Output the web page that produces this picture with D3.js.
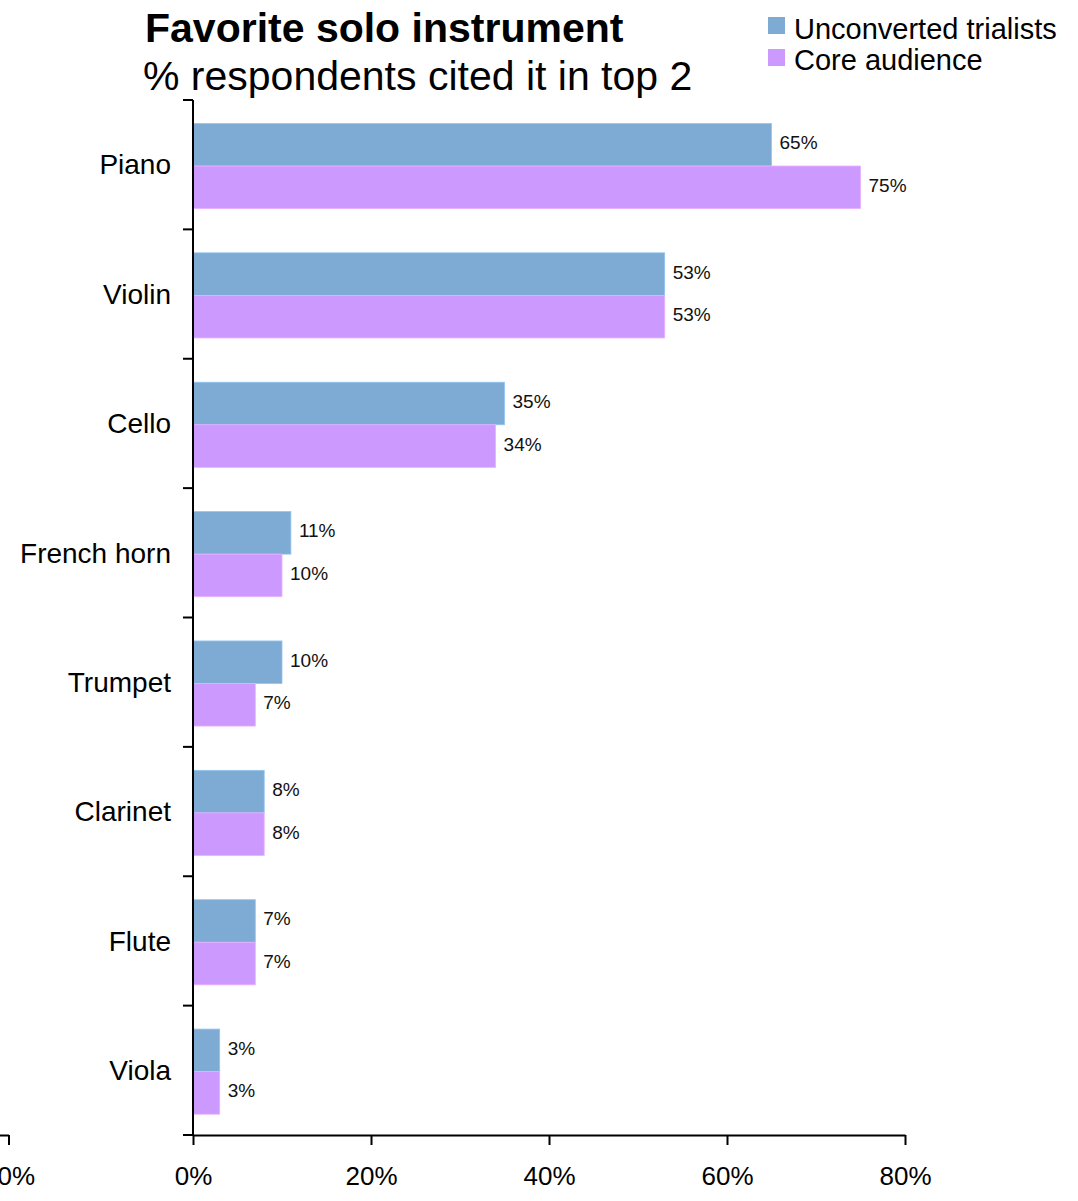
<!DOCTYPE html>
<html>
<head>
<meta charset="utf-8">
<script src="https://cdn.jsdelivr.net/npm/d3@7"></script>
<style>
  html, body { margin: 0; padding: 0; background: #fff; }
  svg { display: block; font-family: "Liberation Sans", Arial, Helvetica, sans-serif; }
</style>
</head>
<body>
<svg id="chart" width="1078" height="1201"></svg>
<script>
// Survey results: share of respondents naming each instrument in their top 2
const categories = ["Piano", "Violin", "Cello", "French horn", "Trumpet", "Clarinet", "Flute", "Viola"];
const seriesNames = ["Unconverted trialists", "Core audience"];
const unconverted = [0.65, 0.53, 0.35, 0.11, 0.10, 0.08, 0.07, 0.03];
const core = [0.75, 0.53, 0.34, 0.10, 0.07, 0.08, 0.07, 0.03];
const xTicks = [0, 0.2, 0.4, 0.6, 0.8];
const prevPanelTicks = [0.8];
const colors = ["#7eabd3", "#cc99ff"];

const seriesValues = [unconverted, core];
const svg = d3.select("#chart");

const plot = { left: 193, right: 905, top: 100, bottom: 1135 };

const x = d3.scaleLinear().domain([0, 0.8]).range([plot.left, plot.right]);
const y = d3.scaleBand().domain(categories).range([plot.top, plot.bottom]).padding(0);
const ySub = d3.scaleBand().domain(seriesNames).range([0, y.bandwidth()])
  .paddingInner(0).paddingOuter(0.52).align(0.53);

const pct = d3.format(".0%");

// Bars
const groups = svg.append("g").selectAll("g")
  .data(categories)
  .join("g")
  .attr("transform", c => `translate(0,${y(c)})`);

seriesNames.forEach((s, si) => {
  groups.append("rect")
    .attr("x", x(0))
    .attr("y", ySub(s))
    .attr("width", (c, i) => x(seriesValues[si][i]) - x(0))
    .attr("height", ySub.bandwidth())
    .attr("fill", colors[si])
    .attr("stroke", d3.color(colors[si]).brighter(0.4))
    .attr("stroke-width", 0.8);

  groups.append("text")
    .attr("x", (c, i) => x(seriesValues[si][i]) + 8)
    .attr("y", ySub(s) + ySub.bandwidth() / 2 - 2)
    .attr("dominant-baseline", "central")
    .attr("font-size", 19)
    .attr("fill", "#111")
    .text((c, i) => pct(seriesValues[si][i]));
});

// Category axis: ticks at band boundaries, labels centred in each band
const yAxis = svg.append("g");
yAxis.append("line")
  .attr("x1", plot.left).attr("x2", plot.left)
  .attr("y1", plot.top).attr("y2", plot.bottom)
  .attr("stroke", "#000").attr("stroke-width", 2);
const bounds = categories.map(c => y(c)).concat([plot.bottom]);
yAxis.selectAll("line.tick")
  .data(bounds)
  .join("line")
  .attr("class", "tick")
  .attr("x1", plot.left - 10).attr("x2", plot.left)
  .attr("y1", d => d).attr("y2", d => d)
  .attr("stroke", "#000").attr("stroke-width", 2);
yAxis.selectAll("text")
  .data(categories)
  .join("text")
  .attr("x", 171)
  .attr("y", c => y(c) + y.bandwidth() / 2)
  .attr("dy", "0.35em")
  .attr("text-anchor", "end")
  .attr("font-size", 28)
  .attr("fill", "#000")
  .text(c => c);

// Value axis
function styleAxis(g) {
  g.select(".domain").attr("stroke", "#000").attr("stroke-width", 2);
  g.selectAll(".tick line").attr("stroke", "#000").attr("stroke-width", 2);
  g.selectAll(".tick text")
    .attr("font-size", 26)
    .attr("font-family", "'Liberation Sans', Arial, Helvetica, sans-serif")
    .attr("fill", "#000")
    .attr("dy", "1.43em");
}

svg.append("g")
  .attr("transform", `translate(0,${plot.bottom})`)
  .call(d3.axisBottom(x).tickValues(xTicks).tickFormat(pct).tickSize(10).tickSizeOuter(0))
  .call(styleAxis);

// Neighbouring panel's axis end, mostly off the left edge
const xPrev = d3.scaleLinear().domain([0, 0.8]).range([8.5 - (plot.right - plot.left), 8.5]);
svg.append("g")
  .attr("transform", `translate(0,${plot.bottom})`)
  .call(d3.axisBottom(xPrev).tickValues(prevPanelTicks).tickFormat(pct).tickSize(10).tickSizeOuter(0))
  .call(styleAxis);

// Title
svg.append("text")
  .attr("x", 145).attr("y", 42)
  .attr("font-size", 41).attr("font-weight", "bold")
  .attr("fill", "#000")
  .text("Favorite solo instrument");
svg.append("text")
  .attr("x", 143).attr("y", 90)
  .attr("font-size", 41)
  .attr("fill", "#000")
  .text("% respondents cited it in top 2");

// Legend
const legend = svg.append("g").attr("transform", "translate(768,0)");
seriesNames.forEach((s, i) => {
  legend.append("rect")
    .attr("x", 0).attr("y", 17 + i * 32)
    .attr("width", 17).attr("height", 17)
    .attr("fill", colors[i]);
  legend.append("text")
    .attr("x", 26).attr("y", 39 + i * 31)
    .attr("font-size", 29)
    .attr("fill", "#000")
    .text(s);
});
</script>
</body>
</html>
